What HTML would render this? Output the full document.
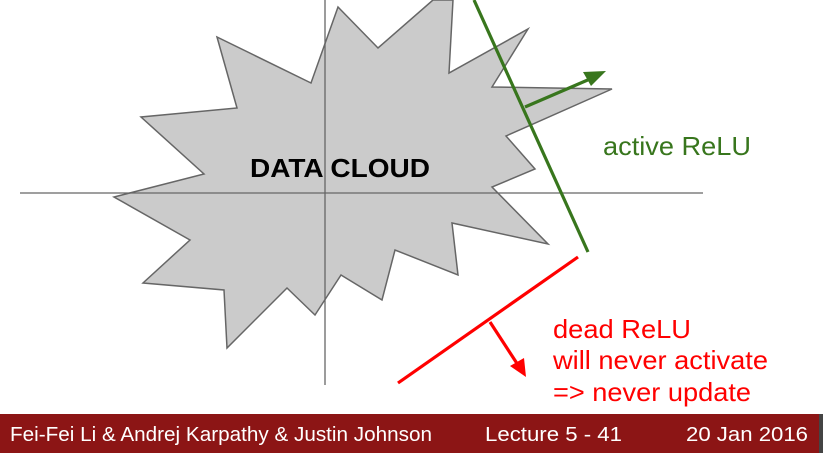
<!DOCTYPE html>
<html><head><meta charset="utf-8"><style>
html,body{margin:0;padding:0;background:#fff;}
svg{display:block;}
</style></head><body>
<svg width="823" height="453" viewBox="0 0 823 453" xmlns="http://www.w3.org/2000/svg">
<rect width="823" height="453" fill="#fff"/>
<polygon points="338,7 378,48 433,0 453,0 449,73 528,29 492,87 612,89 506,136 535,169 492,187 548,244 452,223 458,275 395,250 382,300 341,275 315,315 287,288 227,348 224,290 143,283 190,240 114,197 204,174 141,117 237,108 217,37 311,83" fill="#cbcbcb" stroke="#666" stroke-width="1.5"/>
<line x1="20" y1="193" x2="703" y2="193" stroke="#666" stroke-width="1.3"/>
<line x1="325" y1="0" x2="325" y2="385" stroke="#666" stroke-width="1.3"/>
<text x="340" y="177" text-anchor="middle" font-family="Liberation Sans, sans-serif" font-weight="bold" font-size="26" textLength="180" lengthAdjust="spacingAndGlyphs" fill="#000">DATA CLOUD</text>
<line x1="474" y1="0" x2="588" y2="252" stroke="#38761d" stroke-width="3.2"/>
<line x1="525" y1="107" x2="590" y2="79" stroke="#38761d" stroke-width="3.2"/>
<polygon points="606,71 583,72 591,86" fill="#38761d"/>
<text x="603" y="155" font-family="Liberation Sans, sans-serif" font-size="26" textLength="148" lengthAdjust="spacingAndGlyphs" fill="#38761d">active ReLU</text>
<line x1="398" y1="383" x2="578" y2="257" stroke="#ff0000" stroke-width="3.2"/>
<line x1="490" y1="322" x2="518" y2="365" stroke="#ff0000" stroke-width="3.2"/>
<polygon points="526,377 510,366 524,358" fill="#ff0000"/>
<g font-family="Liberation Sans, sans-serif" font-size="26" fill="#ff0000">
<text x="553" y="338" textLength="138" lengthAdjust="spacingAndGlyphs">dead ReLU</text>
<text x="553" y="369" textLength="215" lengthAdjust="spacingAndGlyphs">will never activate</text>
<text x="553" y="401" textLength="198" lengthAdjust="spacingAndGlyphs">=&gt; never update</text>
</g>
<rect x="0" y="414" width="823" height="39" fill="#8c1515"/>
<rect x="819" y="414" width="4" height="39" fill="#444"/>
<g font-family="Liberation Sans Narrow, Liberation Sans, sans-serif" font-size="20" fill="#fff">
<text x="10" y="441" textLength="422" lengthAdjust="spacingAndGlyphs">Fei-Fei Li &amp; Andrej Karpathy &amp; Justin Johnson</text>
<text x="485" y="441" textLength="137" lengthAdjust="spacingAndGlyphs">Lecture 5 - 41</text>
<text x="686" y="441" textLength="122" lengthAdjust="spacingAndGlyphs">20 Jan 2016</text>
</g>
</svg>
</body></html>
